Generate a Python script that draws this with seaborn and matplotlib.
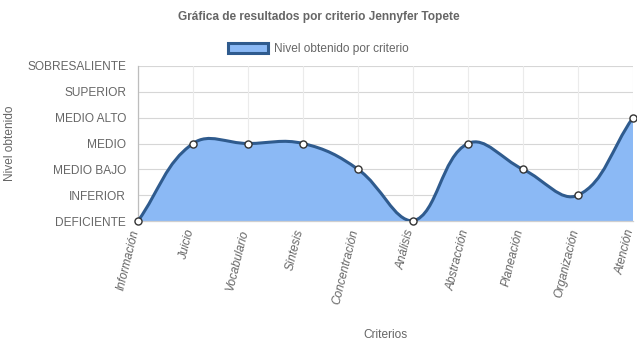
import numpy as np
import matplotlib
matplotlib.use("Agg")
import matplotlib.pyplot as plt
from matplotlib.path import Path
from matplotlib.patches import PathPatch, Patch
import seaborn as sns
import pandas as pd

criterios = ["Información", "Juicio", "Vocabulario", "Síntesis", "Concentración",
             "Análisis", "Abstracción", "Planeación", "Organización", "Atención"]
niveles = ["DEFICIENTE", "INFERIOR", "MEDIO BAJO", "MEDIO", "MEDIO ALTO",
           "SUPERIOR", "SOBRESALIENTE"]
valores = [0, 3, 3, 3, 2, 0, 3, 2, 1, 4]

sns.set_theme(style="white")
plt.rcParams['font.family'] = ['Liberation Sans', 'DejaVu Sans']

FILL = "#8bb9f5"
LINE = "#2f5b8e"
TXT = "#666666"

W, H = 637, 348
fig = plt.figure(figsize=(W / 100, H / 100), dpi=100)
left, right, top, bottom = 138, 633, 66, 221
ax = fig.add_axes([left / W, 1 - bottom / H, (right - left) / W, (bottom - top) / H])

df = pd.DataFrame({"x": np.arange(len(criterios)), "y": valores})

# Chart.js style spline (tension 0.4), computed in pixel space
sx = (right - left) / (len(criterios) - 1)
sy = (bottom - top) / (len(niveles) - 1)
pts = np.column_stack([df["x"].values * sx, df["y"].values * sy]).astype(float)
t = 0.4
n = len(pts)
cp_prev = np.zeros_like(pts)
cp_next = np.zeros_like(pts)
for i in range(n):
    cur = pts[i]
    prev = pts[i - 1] if i > 0 else cur
    nxt = pts[i + 1] if i < n - 1 else cur
    d01 = np.hypot(*(cur - prev))
    d12 = np.hypot(*(nxt - cur))
    s = d01 + d12
    s01 = d01 / s if s else 0
    s12 = d12 / s if s else 0
    cp_prev[i] = cur - t * s01 * (nxt - prev)
    cp_next[i] = cur + t * s12 * (nxt - prev)
ymax = (len(niveles) - 1) * sy
xmax = (n - 1) * sx
for arr in (cp_prev, cp_next):
    arr[:, 0] = np.clip(arr[:, 0], 0, xmax)
    arr[:, 1] = np.clip(arr[:, 1], 0, ymax)

verts = [tuple(pts[0])]
codes = [Path.MOVETO]
for i in range(n - 1):
    verts += [tuple(cp_next[i]), tuple(cp_prev[i + 1]), tuple(pts[i + 1])]
    codes += [Path.CURVE4] * 3
verts = np.array(verts)
verts[:, 0] /= sx
verts[:, 1] /= sy

line_path = Path(verts, codes)
fill_verts = np.vstack([verts, [[n - 1, 0], [0, 0], [0, 0]]])
fill_codes = codes + [Path.LINETO, Path.LINETO, Path.CLOSEPOLY]
fill_path = Path(fill_verts, fill_codes)

ax.add_patch(PathPatch(fill_path, facecolor=FILL, edgecolor="none", zorder=2))
ax.add_patch(PathPatch(line_path, facecolor="none", edgecolor=LINE, lw=2.2, zorder=3,
                       capstyle="round", joinstyle="round"))

sns.scatterplot(data=df, x="x", y="y", ax=ax, s=26, color="white",
                edgecolor="#333333", linewidth=1.0, zorder=5, clip_on=False, legend=False)

ax.set_xlim(0, n - 1)
ax.set_ylim(0, len(niveles) - 1)
ax.set_xticks(range(n))
ax.set_xticklabels([])
for i, lab in enumerate(criterios):
    ax.annotate(lab, xy=(i, 0), xycoords=("data", "axes fraction"),
                xytext=(-2.6, -8.5), textcoords="offset pixels",
                rotation=76, ha="right", va="center", rotation_mode="anchor",
                style="italic", color=TXT, fontsize=8.6, annotation_clip=False)
ax.set_yticks(range(len(niveles)))
ax.set_yticklabels(niveles, color=TXT, fontsize=8.6)
ax.tick_params(axis="both", length=7, width=0.8, color="#d9d9d9", pad=1.5)
ax.tick_params(axis="x", color="#ebebeb", pad=2)
ax.set_xlabel("")
ax.set_ylabel("")

for yv in range(len(niveles)):
    ax.axhline(yv, color="#d6d6d6", lw=0.8, zorder=1)
for xv in range(n):
    ax.axvline(xv, color="#ebebeb", lw=0.8, zorder=1)
for sp in ax.spines.values():
    sp.set_visible(False)
ax.spines["left"].set_visible(True)
ax.spines["left"].set_color("#bdbdbd")
ax.spines["left"].set_linewidth(0.9)
ax.spines["bottom"].set_visible(True)
ax.spines["bottom"].set_color("#cfcfcf")
ax.spines["bottom"].set_linewidth(0.9)

fig.text(0.5, 1 - 17 / H, "Gráfica de resultados por criterio Jennyfer Topete",
         ha="center", va="center", fontsize=8.6, fontweight="bold", color=TXT)
handle = Patch(facecolor=FILL, edgecolor=LINE, linewidth=2.2, label="Nivel obtenido por criterio")
fig.legend(handles=[handle], loc="center", bbox_to_anchor=(0.5, 1 - 49 / H),
           frameon=False, fontsize=8.6, labelcolor=TXT, handlelength=3.3,
           handleheight=0.95, handletextpad=0.5, borderaxespad=0)
fig.text(10 / W, 1 - 143 / H, "Nivel obtenido", rotation=90, ha="center", va="center",
         fontsize=8.6, color=TXT)
fig.text(385 / W, 1 - 335 / H, "Criterios", ha="center", va="center",
         fontsize=8.6, color=TXT)

fig.savefig("out.png", dpi=100)
